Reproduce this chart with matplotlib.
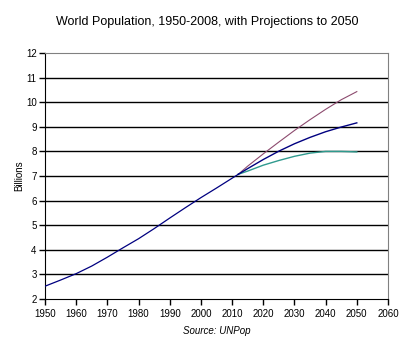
import matplotlib
matplotlib.use('Agg')
import matplotlib.pyplot as plt

plt.rcParams['font.family'] = ['Liberation Sans', 'DejaVu Sans']

# historical estimates (billions)
hist_years = [1950, 1955, 1960, 1965, 1970, 1975, 1980, 1985, 1990, 1995, 2000, 2005, 2008, 2012]
hist_pop = [2.52, 2.77, 3.03, 3.34, 3.70, 4.08, 4.45, 4.86, 5.29, 5.71, 6.12, 6.51, 6.75, 7.07]

# projections
proj_years = [2012, 2015, 2020, 2025, 2030, 2035, 2040, 2045, 2050]
high = [7.07, 7.40, 7.90, 8.38, 8.85, 9.29, 9.71, 10.10, 10.43]
medium = [7.07, 7.30, 7.67, 8.01, 8.31, 8.57, 8.80, 8.99, 9.16]
low = [7.07, 7.20, 7.44, 7.63, 7.80, 7.93, 8.00, 8.00, 7.98]

fig = plt.figure(figsize=(4.15, 3.48), dpi=100)
ax = fig.add_axes([0.1084, 0.1408, 0.8265, 0.7069])

for y in range(3, 12):
    ax.axhline(y, color='black', lw=1.0, zorder=1)

ax.plot(proj_years, high, color='#8c4a6e', lw=0.8, zorder=3)
ax.plot(proj_years, low, color='#2f9a8e', lw=1.0, zorder=3)
ax.plot(proj_years, medium, color='#000080', lw=1.0, zorder=4)
ax.plot(hist_years, hist_pop, color='#000080', lw=0.9, zorder=4)

ax.set_xlim(1950, 2060)
ax.set_ylim(2, 12)
ax.set_xticks(range(1950, 2061, 10))
ax.set_yticks(range(2, 13))
ax.tick_params(labelsize=7, length=4, width=1, pad=2)
ax.tick_params(axis='x', pad=3)

for s in ['top', 'right']:
    ax.spines[s].set_color('#808080')
for s in ['left', 'bottom']:
    ax.spines[s].set_color('black')

ax.set_ylabel('Billions', fontsize=7, labelpad=1)
ax.set_xlabel('Source: UNPop', fontsize=7, style='italic', labelpad=5)
fig.text(0.5, 0.937, 'World Population, 1950-2008, with Projections to 2050',
         ha='center', va='center', fontsize=9)

plt.savefig('out.png', dpi=100)
